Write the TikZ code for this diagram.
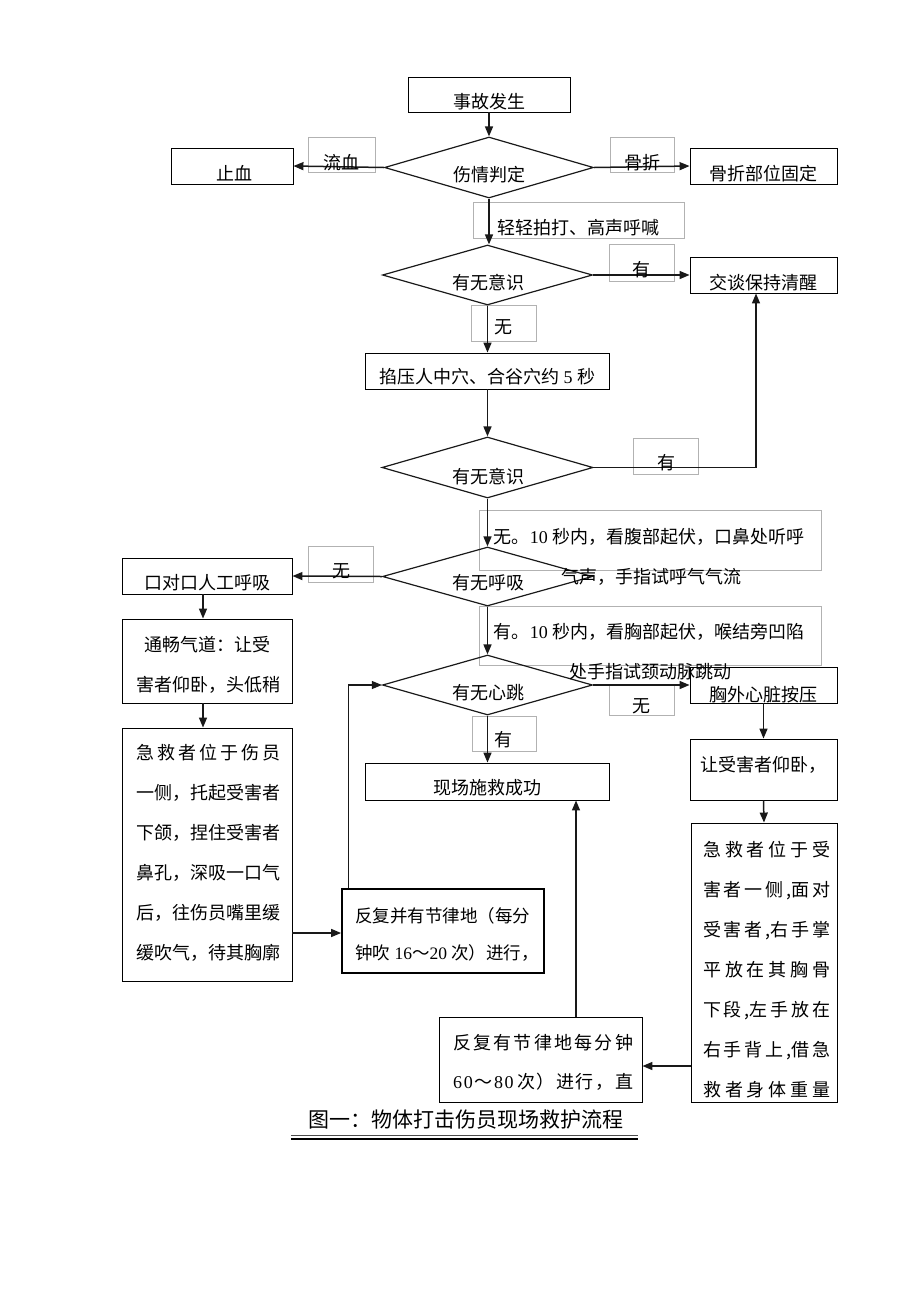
\documentclass[tikz,border=0pt]{standalone}
\usepackage{fontspec}
\setmainfont{Noto Sans CJK SC}
\newfontfamily\lat{Liberation Serif}
\usetikzlibrary{arrows.meta,shapes.geometric}
\newcommand\spreadline[2]{\makebox[#1][s]{#2}}
\begin{document}
\begin{tikzpicture}[x=1pt,y=-1pt,
  box/.style={draw=black, line width=0.9pt, inner sep=0pt, fill=white},
  boldbox/.style={draw=black, line width=1.8pt, inner sep=0pt, fill=white},
  dia/.style={diamond, draw=black!90, line width=1.2pt, inner sep=0pt},
  tag/.style={draw=black!30, line width=0.5pt, inner sep=0pt},
  txt/.style={inner sep=0pt, text height=15.5pt, text depth=2.5pt, font=\fontsize{18}{22}\selectfont},
  arr/.style={draw=black!90, line width=1.5pt, -{Triangle[length=10pt,width=8pt]}},
  ln/.style={draw=black!90, line width=1.5pt}
]
\useasboundingbox (0,0) rectangle (920,1302);

% ---------- label (tag) boxes ----------
\node[tag, minimum width=67, minimum height=35] (tagbleed) at (341.5,154.5) {};
\node[tag, minimum width=64, minimum height=35] (tagfrac) at (642,154.5) {};
\node[tag, minimum width=211, minimum height=36] (tagpat) at (578.5,220) {};
\node[tag, minimum width=65, minimum height=37] (tagyes1) at (641.5,262.5) {};
\node[tag, minimum width=65, minimum height=36] (tagno1) at (503.5,323) {};
\node[tag, minimum width=65, minimum height=36] (tagyes2) at (665.5,456) {};
\node[tag, minimum width=342, minimum height=60] (tagbreath) at (650,540) {};
\node[tag, minimum width=65, minimum height=36] (tagno2) at (340.5,564) {};
\node[tag, minimum width=342, minimum height=59] (tagheart) at (650,635.5) {};
\node[tag, minimum width=65, minimum height=31] (tagno3) at (641.5,699.5) {};
\node[tag, minimum width=64, minimum height=35] (tagyes3) at (504,733.5) {};

% ---------- boxes ----------
\node[box, minimum width=162, minimum height=35] (start) at (489,94.5) {};
\node[box, minimum width=122, minimum height=36] (stop) at (232,166) {};
\node[box, minimum width=147, minimum height=36] (fix) at (763.5,166) {};
\node[box, minimum width=147, minimum height=36] (talk) at (763.5,275) {};
\node[box, minimum width=244, minimum height=36] (press) at (487.5,371) {};
\node[box, minimum width=170, minimum height=36] (mouth) at (207,576) {};
\node[box, minimum width=170, minimum height=84] (airway) at (207,661) {};
\node[box, minimum width=170, minimum height=253] (rescl) at (207,854.5) {};
\node[boldbox, minimum width=202, minimum height=84] (repa) at (443,931) {};
\node[box, minimum width=244, minimum height=37] (success) at (487.5,781.5) {};
\node[box, minimum width=147, minimum height=36] (cpr) at (763.5,685) {};
\node[box, minimum width=147, minimum height=61] (supine) at (763.5,769.5) {};
\node[box, minimum width=146, minimum height=279] (rescr) at (764,962.5) {};
\node[box, minimum width=203, minimum height=85] (repb) at (540.5,1059.5) {};

% ---------- diamonds ----------
\node[dia, minimum width=209, minimum height=61] (d1) at (489,167.5) {};
\node[dia, minimum width=210, minimum height=60] (d2) at (487.5,275) {};
\node[dia, minimum width=211, minimum height=61] (d3) at (487.5,467.5) {};
\node[dia, minimum width=210, minimum height=59] (d4) at (487.5,576.5) {};
\node[dia, minimum width=210, minimum height=60] (d5) at (487.5,685) {};

% ---------- connectors ----------
\draw[arr] (start.south) -- (d1.north);
\draw[arr] (d1.west) -- (stop.east);
\draw[arr] (d1.east) -- (fix.west);
\draw[arr] (d1.south) -- (d1.south |- d2.north);
\draw[arr] (d2.east) -- (talk.west);
\draw[arr] (d2.south) -- (press.north);
\draw[arr] (press.south) -- (d3.north);
\coordinate (talkin) at ([xshift=-7.5pt]talk.south);
\draw[arr] (d3.east) -| (talkin);
\draw[arr] (d3.south) -- (d4.north);
\draw[arr] (d4.west) -- (mouth.east);
\draw[arr] ([xshift=-4pt]mouth.south) -- ([xshift=-4pt]airway.north);
\draw[arr] ([xshift=-4pt]airway.south) -- ([xshift=-4pt]rescl.north);
\coordinate (rlout) at (292,933);
\draw[arr] (rlout) -- (rlout -| repa.west);
\coordinate (raout) at ([xshift=7pt]repa.north west);
\draw[arr, line width=1.1pt] (raout) |- (d5.west);
\draw[arr] (d4.south) -- (d5.north);
\draw[arr] (d5.east) -- (cpr.west);
\draw[arr] (d5.south) -- (success.north);
\draw[arr] (cpr.south) -- (supine.north);
\draw[arr] (supine.south) -- (rescr.north);
\coordinate (rrout) at (691,1066);
\draw[arr] (rrout) -- (rrout -| repb.east);
\coordinate (rbout) at ([xshift=35.5pt]repb.north);
\draw[arr] (rbout) -- (rbout |- success.south);

% ---------- texts ----------
\node[txt] (tstart) at (489,102) {事故发生};
\node[txt] (td1) at (489,175) {伤情判定};
\node[txt] (tstop) at (234,174) {止血};
\node[txt] (tfix) at (763,174) {骨折部位固定};
\node[txt] (tbleed) at (341,163) {流血};
\node[txt] (tfrac) at (642,163) {骨折};
\node[txt] (tpat) at (578,228) {轻轻拍打、高声呼喊};
\node[txt] (td2) at (488,283) {有无意识};
\node[txt] (tyes1) at (641,270) {有};
\node[txt] (ttalk) at (763,283) {交谈保持清醒};
\node[txt] (tno1) at (503,327) {无};
\node[txt] (tpress) at (487,377) {掐压人中穴、合谷穴约{\lat\ 5 }秒};
\node[txt] (td3) at (488,477) {有无意识};
\node[txt] (tyes2) at (666,463) {有};
\node[txt] (tbr1) at (649,537) {无。{\lat 10 }秒内，看腹部起伏，口鼻处听呼};
\node[txt] (tbr2) at (651,577) {气声，手指试呼气气流};
\node[txt] (td4) at (488,583) {有无呼吸};
\node[txt] (tno2) at (341,571) {无};
\node[txt] (tmouth) at (207,583) {口对口人工呼吸};
\node[txt] (tair1) at (207,645) {通畅气道：让受};
\node[txt] (tair2) at (208,685) {害者仰卧，头低稍};
\node[txt, anchor=west] (trl1) at (136,753) {\spreadline{144pt}{急\hfil 救\hfil 者\hfil 位\hfil 于\hfil 伤\hfil 员}};
\node[txt, anchor=west] (trl2) at (136,793) {一侧，托起受害者};
\node[txt, anchor=west] (trl3) at (136,833) {下颌，捏住受害者};
\node[txt, anchor=west] (trl4) at (136,873) {鼻孔，深吸一口气};
\node[txt, anchor=west] (trl5) at (136,913) {后，往伤员嘴里缓};
\node[txt, anchor=west] (trl6) at (136,953) {缓吹气，待其胸廓};
\node[txt, anchor=west, font=\fontsize{17.5}{22}\selectfont] (tra1) at (355,916) {反复并有节律地（每分};
\node[txt, anchor=west, font=\fontsize{17.5}{22}\selectfont] (tra2) at (355,953) {钟吹{\lat\ 16}～{\lat 20 }次）进行，};
\node[txt] (theart1) at (649,632) {有。{\lat 10 }秒内，看胸部起伏，喉结旁凹陷};
\node[txt] (theart2) at (650,672) {处手指试颈动脉跳动};
\node[txt] (td5) at (488,693) {有无心跳};
\node[txt] (tno3) at (641,706) {无};
\node[txt] (tyes3) at (503,740) {有};
\node[txt] (tsucc) at (487,788) {现场施救成功};
\node[txt] (tcpr) at (763,695) {胸外心脏按压};
\node[txt] (tsup) at (763,765) {让受害者仰卧，};
\node[txt, anchor=west] (trr1) at (703,850) {\spreadline{127pt}{急\hfil 救\hfil 者\hfil 位\hfil 于\hfil 受}};
\node[txt, anchor=west] (trr2) at (703,890) {\spreadline{127pt}{害\hfil 者\hfil 一\hfil 侧\hfil ,面\hfil 对}};
\node[txt, anchor=west] (trr3) at (703,930) {\spreadline{127pt}{受\hfil 害\hfil 者\hfil ,右\hfil 手\hfil 掌}};
\node[txt, anchor=west] (trr4) at (703,970) {\spreadline{127pt}{平\hfil 放\hfil 在\hfil 其\hfil 胸\hfil 骨}};
\node[txt, anchor=west] (trr5) at (703,1010) {\spreadline{127pt}{下\hfil 段\hfil ,左\hfil 手\hfil 放\hfil 在}};
\node[txt, anchor=west] (trr6) at (703,1050) {\spreadline{127pt}{右\hfil 手\hfil 背\hfil 上\hfil ,借\hfil 急}};
\node[txt, anchor=west] (trr7) at (703,1090) {\spreadline{127pt}{救\hfil 者\hfil 身\hfil 体\hfil 重\hfil 量}};
\node[txt, anchor=west] (trb1) at (453,1043) {\spreadline{180pt}{反\hfil 复\hfil 有\hfil 节\hfil 律\hfil 地\hfil 每\hfil 分\hfil 钟}};
\node[txt, anchor=west] (trb2) at (453,1082) {\spreadline{180pt}{{\lat 6}\hfil{\lat 0}\hfil ～\hfil{\lat 8}\hfil{\lat 0}\hfil\hfil 次\hfil ）\hfil 进\hfil 行\hfil ，\hfil 直}};

% ---------- caption ----------
\node[inner sep=0pt, text height=18pt, text depth=3pt, font=\fontsize{21}{24}\selectfont] (cap) at (466,1120) {图一：物体打击伤员现场救护流程};
\coordinate (ul1a) at (291,1135.5);
\coordinate (ul1b) at (638,1135.5);
\coordinate (ul2a) at (291,1138.8);
\coordinate (ul2b) at (638,1138.8);
\draw[line width=0.7pt, black!70] (ul1a) -- (ul1b);
\draw[line width=1.8pt] (ul2a) -- (ul2b);
\end{tikzpicture}
\end{document}
